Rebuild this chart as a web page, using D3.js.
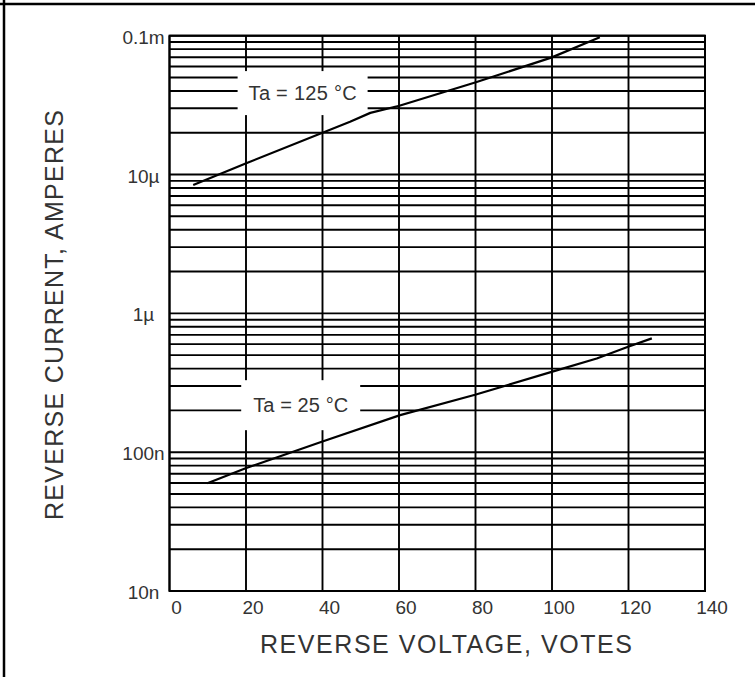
<!DOCTYPE html>
<html>
<head>
<meta charset="utf-8">
<script src="https://cdn.jsdelivr.net/npm/d3@7"></script>
<style>
  html, body { margin: 0; padding: 0; background: #fff; }
  svg { display: block; }
  text { font-family: "Liberation Sans", Arial, sans-serif; fill: #333; }
</style>
</head>
<body>
<svg id="chart" width="755" height="677"></svg>
<script>
// ---- data ----
const xTicks = [0, 20, 40, 60, 80, 100, 120, 140];
const yDecades = [1e-8, 1e-7, 1e-6, 1e-5, 1e-4];
const yTickLabels = ["10n", "100n", "1\u00b5", "10\u00b5", "0.1m"];
const xTitle = "REVERSE VOLTAGE, VOTES";
const yTitle = "REVERSE CURRENT, AMPERES";

// Ta = 125 °C curve: [voltage, current]
const v125 = [6.2, 19.9, 47.2, 52.5, 60.1, 79.9, 99.8, 112.5];
const i125 = [8.4e-6, 1.2e-5, 2.4e-5, 2.78e-5, 3.13e-5, 4.6e-5, 6.95e-5, 9.74e-5];
// Ta = 25 °C curve
const v25 = [9.9, 19.9, 39.8, 60.3, 79.9, 99.9, 111.7, 119.9, 126.1];
const i25 = [5.97e-8, 7.66e-8, 1.19e-7, 1.85e-7, 2.59e-7, 3.79e-7, 4.73e-7, 5.74e-7, 6.6e-7];

const curveLabels = ["Ta = 125 \u00b0C", "Ta = 25 \u00b0C"];
const labelV = [34.8, 34.3];
const labelI = [3.86e-5, 2.18e-7];

// ---- layout ----
const svg = d3.select("#chart");
const L = 169.5, R = 705, T = 35.7, B = 591;
const x = d3.scaleLinear().domain([0, 140]).range([L, R]);
const y = d3.scaleLog().domain([1e-8, 1e-4]).range([B, T]);

// outer frame (top & left visible)
svg.append("line").attr("x1", 0).attr("x2", 755).attr("y1", 4).attr("y2", 4)
  .attr("stroke", "#000").attr("stroke-width", 2.5);
svg.append("line").attr("x1", 4).attr("x2", 4).attr("y1", 0).attr("y2", 677)
  .attr("stroke", "#000").attr("stroke-width", 2.5);

const g = svg.append("g");

// horizontal grid: 1..9 per decade
const hVals = [];
for (let k = 0; k < yDecades.length - 1; k++) {
  for (let m = 1; m <= 9; m++) hVals.push(m * yDecades[k]);
}
hVals.push(yDecades[yDecades.length - 1]);

g.selectAll("line.h").data(hVals).join("line").attr("class", "h")
  .attr("x1", L).attr("x2", R)
  .attr("y1", d => y(d)).attr("y2", d => y(d))
  .attr("stroke", "#000").attr("stroke-width", 1.9);

// vertical grid
g.selectAll("line.v").data(xTicks).join("line").attr("class", "v")
  .attr("x1", d => x(d)).attr("x2", d => x(d))
  .attr("y1", T).attr("y2", B)
  .attr("stroke", "#000").attr("stroke-width", 1.9);

// frame
g.append("rect").attr("x", L).attr("y", T).attr("width", R - L).attr("height", B - T)
  .attr("fill", "none").attr("stroke", "#000").attr("stroke-width", 2);

// label boxes (white, interrupt grid)
const boxHalfW = [65, 59.5];
const boxHalfH = [22, 25];
curveLabels.forEach((t, i) => {
  const cx = x(labelV[i]), cy = y(labelI[i]);
  g.append("rect")
    .attr("x", cx - boxHalfW[i]).attr("y", cy - boxHalfH[i])
    .attr("width", 2 * boxHalfW[i]).attr("height", 2 * boxHalfH[i])
    .attr("fill", "#fff");
  g.append("text").attr("x", cx).attr("y", cy + 7)
    .attr("text-anchor", "middle").attr("font-size", 20)
    .attr("textLength", i === 0 ? 108 : 95).attr("lengthAdjust", "spacing")
    .text(t);
});

// curves
const line = d3.line().x(d => x(d[0])).y(d => y(d[1]));
const c125 = v125.map((v, i) => [v, i125[i]]);
const c25 = v25.map((v, i) => [v, i25[i]]);
[c125, c25].forEach(c => {
  g.append("path").datum(c).attr("d", line)
    .attr("fill", "none").attr("stroke", "#000").attr("stroke-width", 2.2)
    .attr("stroke-linejoin", "round");
});

// y tick labels
g.selectAll("text.yt").data(yDecades).join("text").attr("class", "yt")
  .attr("x", 143.5).attr("y", d => y(d) + 8)
  .attr("text-anchor", "middle").attr("font-size", 19)
  .text((d, i) => yTickLabels[i]);

// x tick labels
g.selectAll("text.xt").data(xTicks).join("text").attr("class", "xt")
  .attr("x", d => x(d) + 7).attr("y", 614)
  .attr("text-anchor", "middle").attr("font-size", 19)
  .text(d => d);

// axis titles
svg.append("text").attr("x", 446).attr("y", 653)
  .attr("text-anchor", "middle").attr("font-size", 25)
  .attr("textLength", 372).attr("lengthAdjust", "spacing")
  .text(xTitle);
svg.append("text").attr("transform", "translate(63,315) rotate(-90)")
  .attr("text-anchor", "middle").attr("font-size", 25)
  .attr("textLength", 410).attr("lengthAdjust", "spacing")
  .text(yTitle);
</script>
</body>
</html>
